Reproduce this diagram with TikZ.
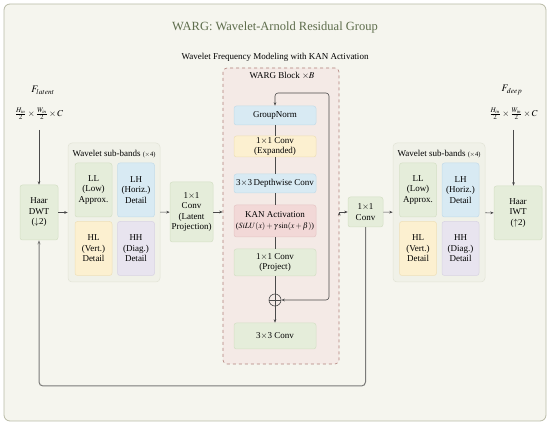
\documentclass[tikz,border=0pt]{standalone}
\usepackage{amsmath}
\usepackage{mathptmx}
\usepackage{fontspec}
\setmainfont{Liberation Serif}
\usepackage{xcolor}
\usetikzlibrary{arrows.meta,positioning}

\definecolor{pagefill}{HTML}{F5F5EE}
\definecolor{pageline}{HTML}{B9BAA6}
\definecolor{titlecol}{HTML}{5E6D4C}
\definecolor{gfill}{HTML}{E5EDDA}
\definecolor{gline}{HTML}{D5E0C6}
\definecolor{bfill}{HTML}{D8EAF3}
\definecolor{bline}{HTML}{C4DCE9}
\definecolor{yfill}{HTML}{FCF0D0}
\definecolor{yline}{HTML}{EFE0B8}
\definecolor{pfill}{HTML}{F2D8D7}
\definecolor{pline}{HTML}{E6C6C5}
\definecolor{vfill}{HTML}{E8E4EF}
\definecolor{vline}{HTML}{D8D3E3}
\definecolor{blockfill}{HTML}{F4EAE6}
\definecolor{blockline}{HTML}{B0807A}
\definecolor{subfill}{HTML}{F0F1E8}
\definecolor{subline}{HTML}{E2E3D6}
\definecolor{arrcol}{HTML}{4A4A4A}
\definecolor{loopcol}{HTML}{7A7A78}

\begin{document}
\begin{tikzpicture}[x=1pt,y=-1pt,
    blk/.style={rounded corners=2.5pt,align=center,inner sep=1pt,line width=0.5pt,
      font=\fontsize{9}{10.5}\selectfont},
    gbox/.style={blk,fill=gfill,draw=gline},
    bbox/.style={blk,fill=bfill,draw=bline},
    ybox/.style={blk,fill=yfill,draw=yline},
    pbox/.style={blk,fill=pfill,draw=pline},
    vbox/.style={blk,fill=vfill,draw=vline},
    band/.style={minimum width=37pt,minimum height=54pt},
    inblk/.style={minimum width=82pt},
    subgrp/.style={rounded corners=4pt,fill=subfill,draw=subline,line width=0.5pt,
      minimum width=92pt,minimum height=139pt},
    grptitle/.style={font=\fontsize{9}{10}\selectfont,inner sep=0pt},
    arr/.style={-{Stealth[length=3.5pt,width=2.6pt]},draw=arrcol,line width=0.6pt},
    ln/.style={draw=arrcol,line width=0.6pt},
    dims/.style={font=\fontsize{9}{10}\selectfont,inner sep=0pt}]
\useasboundingbox (0,0) rectangle (550,425);

% page frame and titles
\draw[fill=pagefill,draw=pageline,line width=0.8pt,rounded corners=6pt] (4,4) rectangle (546,421);
\node[text=titlecol,font=\fontsize{12.5}{14}\selectfont] (title) at (275,27) {WARG: Wavelet-Arnold Residual Group};
\node[font=\fontsize{9}{10}\selectfont] (subtitle) at (275,57) {Wavelet Frequency Modeling with KAN Activation};

% input side
\node[inner sep=0pt] (f_lat) at (43,90) {$\fontsize{14}{16}\selectfont F_{\fontsize{8}{9}\selectfont latent}$};
\node[dims] (dim_lat) at (39,114) {$\frac{H_{in}}{2}\times\frac{W_{in}}{2}\times C$};
\coordinate (in_lat) at (39,130);
\node[gbox,minimum width=38pt,minimum height=55pt] (dwt) at (39,212.5) {Haar\\DWT\\($\downarrow$2)};

% left sub-bands
\node[subgrp] (sb_l) at (114,212.5) {};
\node[grptitle] at (114,154) {Wavelet sub-bands {\fontsize{6.5}{7}\selectfont($\times$4)}};
\node[gbox,band] (ll_l) at (93.5,190) {LL\\(Low)\\Approx.};
\node[bbox,band] (lh_l) [right=5pt of ll_l] {LH\\(Horiz.)\\Detail};
\node[ybox,band] (hl_l) [below=4pt of ll_l] {HL\\(Vert.)\\Detail};
\node[vbox,band] (hh_l) [below=4pt of lh_l] {HH\\(Diag.)\\Detail};

\node[gbox,minimum width=43pt,minimum height=60pt] (proj_lat) at (191.5,212) {1$\times$1\\Conv\\(Latent\\Projection)};

% WARG block
\node[draw=blockline,fill=blockfill,dashed,line width=0.6pt,rounded corners=4pt,
  minimum width=116pt,minimum height=296pt] (warg) at (281,216) {};
\node[font=\fontsize{9}{10}\selectfont] (warg_t) at (282,76) {WARG Block $\times B$};
\node[bbox,inblk,minimum height=19pt] (gn) at (275,115.5) {GroupNorm};
\node[ybox,inblk,minimum height=21pt] (expd) at (275,146.5) {1$\times$1 Conv\\(Expanded)};
\node[bbox,inblk,minimum height=19pt] (dwc) at (275,183.5) {3$\times$3\,Depthwise Conv};
\node[pbox,inblk,minimum height=32pt] (kan) at (275,221) {KAN Activation\\{\fontsize{8}{10}\selectfont($SiLU(x)+\gamma\sin(x+\beta)$)}};
\node[gbox,inblk,minimum height=27pt] (prj) at (275,262.5) {1$\times$1 Conv\\(Project)};
\node[circle,draw=arrcol,line width=0.6pt,minimum size=12pt,inner sep=0pt] (add) at (275,300) {};
\draw[ln] (add.north) -- (add.south) (add.west) -- (add.east);
\node[gbox,inblk,minimum height=26pt] (c33) at (275,336) {3$\times$3 Conv};
\coordinate (skip) at (329,93);

\path[ln] (gn) edge (expd) (expd) edge (dwc) (dwc) edge (kan) (kan) edge (prj) (prj) edge (add);
\path[arr] (add) edge (c33);
\draw[arr,{Stealth[length=3.5pt,width=2.6pt]}-{Stealth[length=3.5pt,width=2.6pt]},rounded corners=3pt]
  (gn.north) |- (skip) |- (add.east);

% output side
\node[gbox,minimum width=35pt,minimum height=30pt] (c11) at (365.5,212) {1$\times$1\\Conv};
\node[subgrp] (sb_r) at (439,212.5) {};
\node[grptitle] at (439,154) {Wavelet sub-bands {\fontsize{6.5}{7}\selectfont($\times$4)}};
\node[gbox,band] (ll_r) at (418,190) {LL\\(Low)\\Approx.};
\node[bbox,band] (lh_r) [right=5pt of ll_r] {LH\\(Horiz.)\\Detail};
\node[ybox,band] (hl_r) [below=4pt of ll_r] {HL\\(Vert.)\\Detail};
\node[vbox,band] (hh_r) [below=4pt of lh_r] {HH\\(Diag.)\\Detail};
\node[gbox,minimum width=48pt,minimum height=54pt] (iwt) at (518,213) {Haar\\IWT\\($\uparrow$2)};
\node[inner sep=0pt] (f_deep) at (512,90) {$\fontsize{14}{16}\selectfont F_{\fontsize{8}{9}\selectfont deep}$};
\node[dims] (dim_deep) at (513.5,114) {$\frac{H_{in}}{2}\times\frac{W_{in}}{2}\times C$};
\coordinate (in_deep) at (513.5,130);

% main flow
\path[arr] (in_lat) edge (dwt)
  (dwt) edge (sb_l)
  (sb_l) edge (proj_lat)
  (proj_lat) edge (warg.west |- proj_lat)
  (warg.east |- c11) edge (c11)
  (c11) edge (sb_r)
  (sb_r) edge (iwt);
\draw[arr] (in_deep) -- (in_deep |- iwt.north);

% global residual
\coordinate (loop_r) at (365.5,386);
\draw[-{Stealth[length=4pt,width=3pt]},draw=loopcol,line width=1pt,rounded corners=4pt]
  (c11.south) -- (loop_r) -| (dwt.south);
\end{tikzpicture}
\end{document}
